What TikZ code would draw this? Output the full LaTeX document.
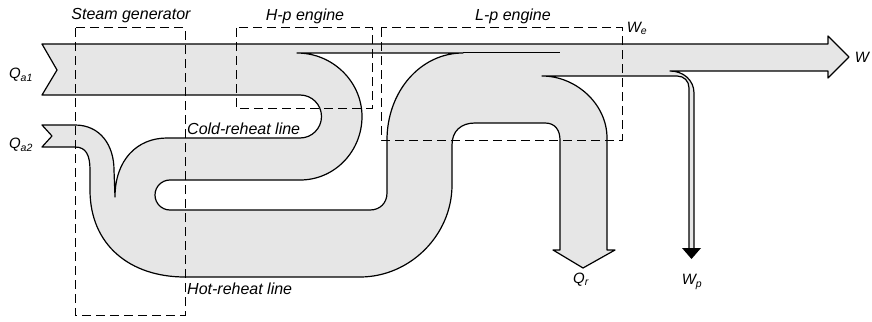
\documentclass[tikz,border=0pt]{standalone}
\usepackage{fontspec}
\setmainfont{Liberation Sans}
\definecolor{flowgray}{RGB}{230,230,230}
\begin{document}
\begin{tikzpicture}[x=1pt,y=-1pt,
  edge/.style={line width=1.2pt, line join=round},
  box/.style={line width=1pt, dash pattern=on 9pt off 5pt},
  lab/.style={font=\fontsize{16}{18}\selectfont\itshape, inner sep=0pt},
  sym/.style={font=\fontsize{15}{17}\selectfont\itshape, inner sep=0pt}]
\useasboundingbox (0,0) rectangle (872,321);

% grey flow with the enclosed white hole
\filldraw[fill=flowgray, even odd rule, edge]
  (42,44) -- (828,44) -- (828,36) -- (849,57) -- (828,78) -- (828,71) -- (670,71)
  .. controls (683,71) and (694,80) .. (694,93) -- (694,250) -- (689,250) -- (689,88)
  .. controls (689,81) and (684,76) .. (677,76) -- (542,76)
  .. controls (576,76) and (607,104) .. (607,138) -- (607,250) -- (615,250) -- (583,268) -- (553,250) -- (560,250) -- (560,140)
  .. controls (560,130) and (555,123) .. (545,123) -- (475,123)
  .. controls (461,123) and (452,131) .. (452,145) -- (452,185)
  .. controls (452,235) and (410,277) .. (360,277) -- (185,277)
  .. controls (130,277) and (90,245) .. (90,190) -- (90,170)
  .. controls (90,155) and (86,147) .. (75,147) -- (42,147) -- (52,136) -- (42,125) -- (75,125)
  .. controls (100,125) and (114,145) .. (114,170) -- (115,197)
  .. controls (115,160) and (137,138) .. (167,138) -- (300,138)
  .. controls (311.9,138) and (321.5,128.4) .. (321.5,116.5)
  .. controls (321.5,104.6) and (311.9,95) .. (300,95) -- (42,95) -- (57,70) -- cycle
  (297,53) -- (463,53) .. controls (420,53) and (387,92) .. (387,140) -- (387,193)
  .. controls (387,203) and (380,210) .. (370,210) -- (170,210)
  .. controls (161.7,210) and (155,203.3) .. (155,195)
  .. controls (155,186.7) and (161.7,180) .. (170,180) -- (300,180)
  .. controls (335,180) and (362,151) .. (362,116.5)
  .. controls (362,82) and (333,53) .. (297,53) -- cycle;

% separator of the H-p work strip
\draw[line width=1pt] (463,53) -- (560,53);

% pump work arrowhead
\fill (682,248) -- (701,248) -- (691.5,259) -- cycle;

% dashed control boxes
\draw[box] (75,28) rectangle (185,315);
\draw[box] (236,28) rectangle (372,108);
\draw[box] (381,28) rectangle (622,140);

% labels
\node[lab] (sg) at (131,16) {Steam generator};
\node[lab] (hp) at (305,16) {H-p engine};
\node[lab] (lp) at (513,16) {L-p engine};
\node[lab, anchor=west] (crl) at (187,129) {Cold-reheat line};
\node[lab, anchor=west] (hrl) at (187,289) {Hot-reheat line};
\node[sym] (qa1) at (21,75) {Q\textsubscript{a1}};
\node[sym] (qa2) at (21,145) {Q\textsubscript{a2}};
\node[sym] (we) at (637,28) {W\textsubscript{e}};
\node[sym] (w) at (862,57) {W};
\node[sym] (qr) at (581,280) {Q\textsubscript{r}};
\node[sym] (wp) at (692,282) {W\textsubscript{p}};
\end{tikzpicture}
\end{document}
